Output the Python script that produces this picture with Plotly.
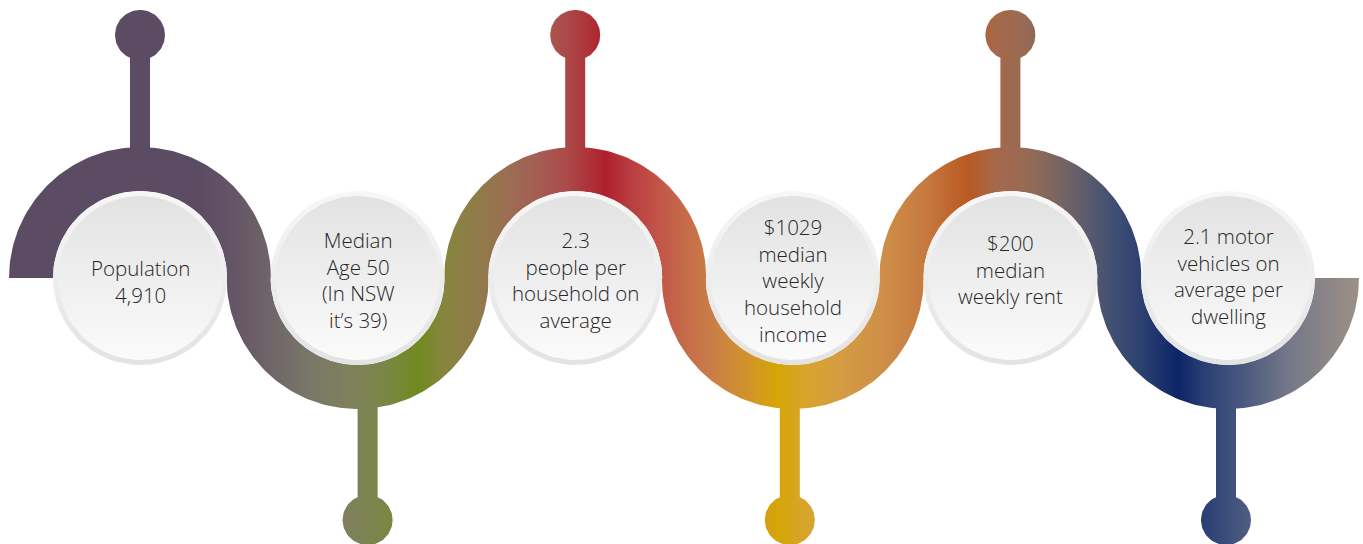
import numpy as np
import plotly.graph_objects as go

# ---- content (text of each node) ----
labels = [
    ["Population", "4,910"],
    ["Median", "Age 50", "(In NSW", "it’s 39)"],
    ["2.3", "people per", "household on", "average"],
    ["$1029", "median", "weekly", "household", "income"],
    ["$200", "median", "weekly rent"],
    ["2.1 motor", "vehicles on", "average per", "dwelling"],
]

# ---- layout / style ----
W, H = 1363, 544
X0, STEP, CY = 140, 217.6, 278
RO, RI = 131, 87
centers = [X0 + i * STEP for i in range(len(labels))]
stem_dx = [0, 10, 0, -3, 0, -2]
text_base_mid = [289, 288, 288, 288, 277, 284]   # mean baseline of each text block
FS = 20.5

grad_x = [0, 200, 235, 265, 305, 345, 385, 418, 445, 475, 505, 535, 565, 590, 605, 628,
          655, 685, 710, 745, 778, 805, 840, 885, 925, 968, 995, 1025, 1055, 1085, 1115,
          1145, 1178, 1205, 1245, 1285, 1325, 1363]
grad_c = ['#5c4c63', '#5c4c63', '#645667', '#6e6268', '#787568', '#7e805e', '#7a8646',
          '#718a1f', '#86853f', '#8f7c49', '#9a6f52', '#a45f55', '#ab4b4a', '#ae3138',
          '#ae1f2c', '#b83b3f', '#c15248', '#c66b4a', '#c97c47', '#d0922e', '#d6a505',
          '#d7a52b', '#d59c42', '#ce8e48', '#c67a40', '#b85a22', '#a6684b', '#986a54',
          '#7c6660', '#5d5c6c', '#3f4e72', '#2a3e70', '#0c2567', '#2b4075', '#4b5a80',
          '#717688', '#8b8588', '#9e9187']
colorscale = [[x / W, c] for x, c in zip(grad_x, grad_c)]

fig = go.Figure()


def add_poly(xs, ys, grad):
    fig.add_trace(go.Scatter(x=list(xs), y=list(ys), mode="lines", fill="toself",
                             line=dict(width=0), fillgradient=grad,
                             hoverinfo="skip", showlegend=False))


hgrad = dict(type="horizontal", colorscale=colorscale, start=0, stop=W)

# ---- wave band ----
th = np.linspace(0, np.pi, 120)
ux, uy, lx, ly = [], [], [], []
for i, c in enumerate(centers):
    t = th[::-1]
    if i % 2 == 0:
        ux += list(c + RO * np.cos(t)); uy += list(CY - RO * np.sin(t))
    else:
        ux += list(c + RI * np.cos(t)); uy += list(CY + RI * np.sin(t))
for i in range(len(centers) - 1, -1, -1):
    c = centers[i]
    if i % 2 == 0:
        lx += list(c + RI * np.cos(th)); ly += list(CY - RI * np.sin(th))
    else:
        lx += list(c + RO * np.cos(th)); ly += list(CY + RO * np.sin(th))
add_poly(ux + lx + [ux[0]], uy + ly + [uy[0]], hgrad)

# ---- stems and dots ----
phi = np.linspace(0, 2 * np.pi, 80)
for i, c in enumerate(centers):
    sx = c + stem_dx[i]
    if i % 2 == 0:
        y1, y2, dy = 57, CY - RO + 3, 35
    else:
        y1, y2, dy = CY + RO - 3, 498, 520
    add_poly([sx - 10, sx + 10, sx + 10, sx - 10, sx - 10], [y1, y1, y2, y2, y1], hgrad)
    add_poly(sx + 25 * np.cos(phi), dy + 25 * np.sin(phi), hgrad)

# ---- white circles with text ----
for i, c in enumerate(centers):
    add_poly(c + RI * np.cos(phi), CY + RI * np.sin(phi),
             dict(type="vertical", colorscale=[[0, "#f7f7f7"], [1, "#e3e3e3"]],
                  start=CY - RI, stop=CY + RI))
    add_poly(c + 82 * np.cos(phi), CY + 82 * np.sin(phi),
             dict(type="vertical", colorscale=[[0, "#e2e2e2"], [1, "#fbfbfb"]],
                  start=CY - 82, stop=CY + 82))
    fig.add_annotation(x=c, y=text_base_mid[i] - 0.388 * FS, text="<br>".join(labels[i]),
                       showarrow=False, xanchor="center", yanchor="middle", align="center",
                       font=dict(family="Open Sans", size=FS, color="#262626", weight=300))

fig.update_layout(width=W, height=H, margin=dict(l=0, r=0, t=0, b=0),
                  paper_bgcolor="white", plot_bgcolor="white",
                  xaxis=dict(range=[0, W], visible=False, fixedrange=True),
                  yaxis=dict(range=[H, 0], visible=False, fixedrange=True))

fig.write_html("out.html", config={"displayModeBar": False},
               post_script="document.body.style.margin='0';document.body.style.overflow='hidden';")
